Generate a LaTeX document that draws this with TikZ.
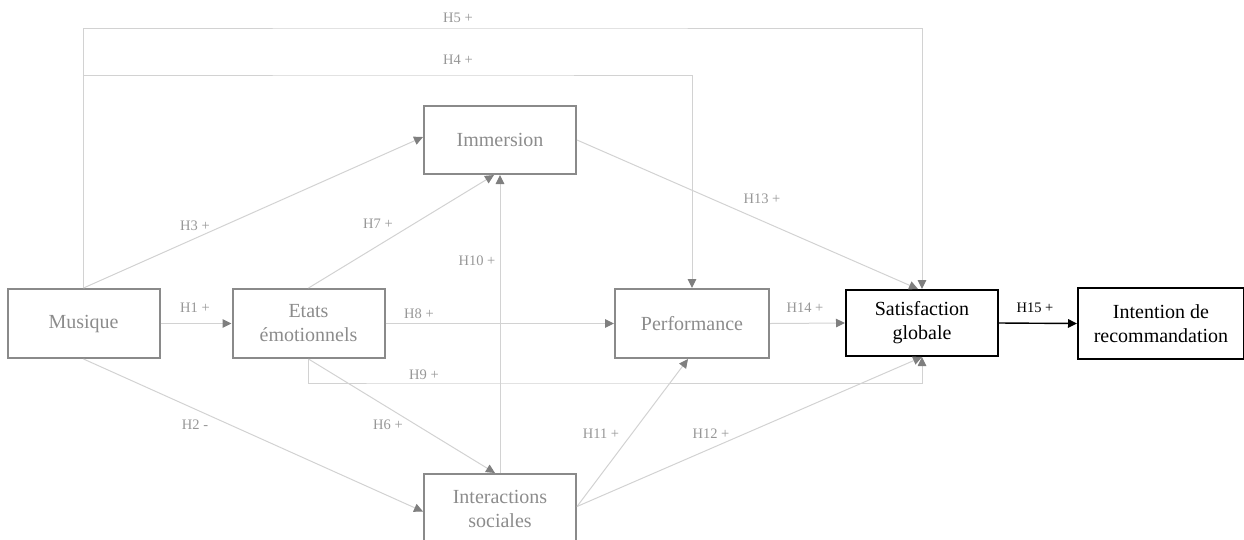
\documentclass[tikz,border=0pt]{standalone}
\usepackage{fontspec}
\setmainfont{Liberation Serif}
\usetikzlibrary{arrows.meta,calc}

\definecolor{boxgray}{HTML}{8A8A8A}
\definecolor{textgray}{HTML}{8C8C8C}
\definecolor{labelgray}{HTML}{979797}
\definecolor{linegray}{HTML}{D2D2D2}
\definecolor{tipgray}{HTML}{7F7F7F}

\tikzset{
  construct/.style={draw=boxgray, line width=2pt, rectangle, inner sep=0pt,
    minimum width=152pt, minimum height=69pt, align=center, text=textgray,
    font=\fontsize{20}{24}\selectfont},
  keybox/.style={construct, draw=black, text=black},
  conn/.style={draw=linegray, line width=1pt,
    -{Triangle[color=tipgray, length=9pt, width=8.5pt]}},
  mainconn/.style={draw=black, line width=1.4pt,
    -{Triangle[color=black, length=9pt, width=8.5pt]}},
  hyp/.style={text=labelgray, inner sep=0pt, font=\fontsize{14.5}{17}\selectfont},
  keyhyp/.style={hyp, text=black}
}

\begin{document}
\begin{tikzpicture}[x=1pt, y=-1pt]
\useasboundingbox (0,0) rectangle (1244,539);

% constructs
\node[construct] (mus)  at (83.5,323.5) {Musique};
\node[construct] (eta)  at (308.5,323.5) {Etats\\émotionnels};
\node[construct, minimum height=68pt] (imm) at (500,140) {Immersion};
\node[construct, minimum width=154pt] (perf) at (692,323.5) {Performance};
\node[construct] (soc)  at (500,508.5) {Interactions\\sociales};
\node[keybox, minimum height=66pt] (sat) at (922,323) {Satisfaction\\globale};
\node[keybox, minimum width=166pt, minimum height=71pt] (int) at (1161,323.5) {Intention de\\recommandation};

% corner points of the routed paths
\coordinate (h5) at (458,28);
\coordinate (h4) at (458,75);
\coordinate (h9) at (423,383);

% routed hypotheses
\draw[conn] (mus.north) |- (h5) -| (sat.north);
\draw[conn] (mus.north) |- (h4) -| (perf.north);
\draw[conn] (eta.south) |- (h9) -| (sat.south);

% straight hypotheses
\draw[conn] (mus.north) -- ([yshift=3pt]imm.west);
\draw[conn] (mus.east) -- (eta.west);
\draw[conn] (mus.south) -- ([yshift=-3pt]soc.west);
\draw[conn] (eta.north) -- ([xshift=-6pt]imm.south);
\draw[conn] (eta.east) -- (perf.west);
\draw[conn] (eta.south) -- ([xshift=-5pt]soc.north);
\draw[conn] (soc.north) -- (imm.south);
\draw[conn] ([yshift=2pt]soc.east) -- ([xshift=-4pt]perf.south);
\draw[conn] ([yshift=2pt]soc.east) -- (sat.south);
\draw[conn] (imm.east) -- ([xshift=-4pt]sat.north);
\draw[conn] (perf.east) -- (sat.west);
\draw[mainconn] (sat.east) -- (int.west);

% hypothesis labels
\node[hyp] at (458,18)  {H5 +};
\node[hyp] at (458,60)  {H4 +};
\node[hyp] at (195,226) {H3 +};
\node[hyp] at (378,224) {H7 +};
\node[hyp] at (477,261) {H10 +};
\node[hyp] at (195,308) {H1 +};
\node[hyp] at (419,314) {H8 +};
\node[hyp] at (424,375) {H9 +};
\node[hyp] at (388,425) {H6 +};
\node[hyp] at (195,425) {H2 -};
\node[hyp] at (601,434) {H11 +};
\node[hyp] at (711,434) {H12 +};
\node[hyp] at (762,199) {H13 +};
\node[hyp] at (805,308) {H14 +};
\node[keyhyp] at (1035,308) {H15 +};
\end{tikzpicture}
\end{document}
